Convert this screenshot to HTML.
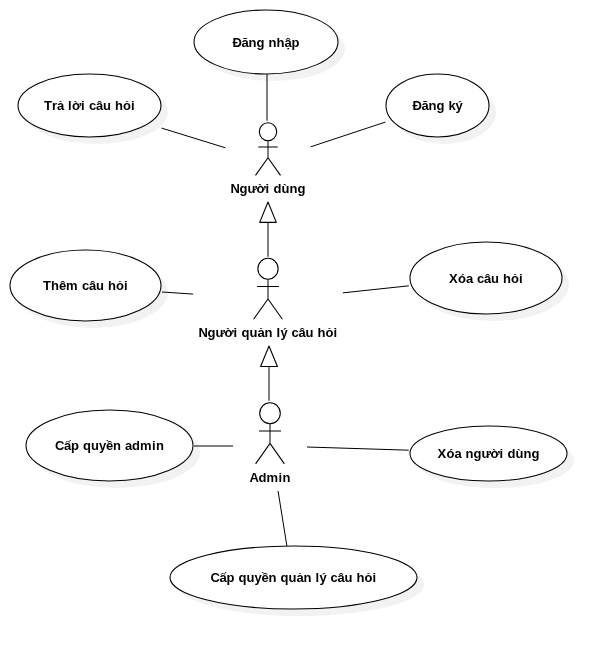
<!DOCTYPE html>
<html lang="vi">
<head>
<meta charset="utf-8">
<title>Use case diagram</title>
<style>
html,body{margin:0;padding:0;background:#fff;}
body{width:607px;height:649px;overflow:hidden;}
svg{display:block;will-change:transform;}
text{font-family:"Liberation Sans",Arial,sans-serif;font-weight:bold;font-size:13px;fill:#000;text-anchor:start;white-space:pre;}
.sh{fill:#f2f2f2;stroke:none;}
.uc{fill:#fff;stroke:#000;stroke-width:1.08;}
.ln{stroke:#000;stroke-width:1;fill:none;}
.tri{fill:#fff;stroke:#000;stroke-width:1.1;stroke-linejoin:round;}
.dg{stroke-width:1.1;}
</style>
</head>
<body>
<svg width="607" height="649" viewBox="0 0 607 649">
<rect width="607" height="649" fill="#fff"/>

<!-- shadows -->
<g class="sh">
<ellipse cx="273" cy="49" rx="72" ry="32"/>
<ellipse cx="96.5" cy="112.5" rx="71.5" ry="31.5"/>
<ellipse cx="444.5" cy="112.5" rx="51.5" ry="31.5"/>
<ellipse cx="92.5" cy="292.5" rx="75.5" ry="35.5"/>
<ellipse cx="493" cy="285" rx="76" ry="36"/>
<ellipse cx="116.5" cy="452.5" rx="83.5" ry="35.5"/>
<ellipse cx="495.5" cy="460.5" rx="78.5" ry="27.5"/>
<ellipse cx="300.5" cy="584.5" rx="123.5" ry="31.5"/>
</g>

<!-- connectors (on top of shadows, clipped to use-case bounding boxes) -->
<g class="ln">
<line x1="267" y1="74" x2="267" y2="120.75"/>
<line x1="161.5" y1="128.05" x2="225.4" y2="147.8"/>
<line x1="310.6" y1="146.85" x2="385.4" y2="122.05"/>
<line x1="162" y1="292" x2="193.2" y2="294.1"/>
<line x1="342.9" y1="292.85" x2="408.9" y2="285.8"/>
<line x1="194" y1="446" x2="233" y2="446"/>
<line x1="307" y1="447" x2="408.75" y2="450.2"/>
<line x1="278.07" y1="491" x2="286.9" y2="546"/>
<line x1="268" y1="222" x2="268" y2="256.75"/>
<line x1="269" y1="366.5" x2="269" y2="400.75"/>
</g>

<polygon class="tri" points="268,202 276.3,222.4 259.7,222.4"/>
<polygon class="tri" points="269,346 277.4,366.5 260.6,366.5"/>

<!-- use cases -->
<g class="uc">
<ellipse cx="266" cy="42" rx="72" ry="32"/>
<ellipse cx="89.5" cy="105.5" rx="71.5" ry="31.5"/>
<ellipse cx="437.5" cy="105.5" rx="51.5" ry="31.5"/>
<ellipse cx="85.5" cy="285.5" rx="75.5" ry="35.5"/>
<ellipse cx="486" cy="278" rx="76" ry="36"/>
<ellipse cx="109.5" cy="445.5" rx="83.5" ry="35.5"/>
<ellipse cx="488.5" cy="453.5" rx="78.5" ry="27.5"/>
<ellipse cx="293.5" cy="577.5" rx="123.5" ry="31.5"/>
</g>

<!-- actors -->
<g class="ln">
<ellipse cx="268" cy="131.8" rx="8.7" ry="9" fill="#fff" class="dg"/>
<path d="M268 140.8V157.8M258.3 147H277.7"/>
<path class="dg" d="M268 157.8L255.5 175.4M268 157.8L280.5 175.4"/>
<ellipse cx="268" cy="268.8" rx="10.1" ry="10.5" fill="#fff" class="dg"/>
<path d="M268 279.3V299M257 286.5H279"/>
<path class="dg" d="M268 299L253.6 319.2M268 299L282.4 319.2"/>
<ellipse cx="270" cy="413.2" rx="10.3" ry="10.5" fill="#fff" class="dg"/>
<path d="M270 423.7V443.4M259 431H281"/>
<path class="dg" d="M270 443.4L255.6 463.9M270 443.4L284.4 463.9"/>
</g>

<!-- labels: 13px bold, glyphs on whole-pixel advances -->
<g>
<text y="47" x="232.5 241.5 248.5 256.5 264.5 268.5 276.5 284.5 291.5">Đăng nhập</text>
<text y="110" x="44 52 57 64 68 72 81 85 89 96 103 111 115 123 131">Trả lời câu hỏi</text>
<text y="110" x="412.5 421.5 428.5 436.5 444.5 448.5 455.5">Đăng ký</text>
<text y="193" x="230.5 239.5 247.5 256.5 265.5 269.5 273.5 281.5 289.5 297.5">Người dùng</text>
<text y="290" x="43 51 59 66 78 82 89 96 104 108 116 124">Thêm câu hỏi</text>
<text y="283" x="449 458 466 473 477 484 491 499 503 511 519">Xóa câu hỏi</text>
<text y="337" x="198.5 207.5 215.5 224.5 233.5 237.5 241.5 249.5 257.5 264.5 272.5 276.5 280.5 287.5 291.5 298.5 305.5 313.5 317.5 325.5 333.5">Người quản lý câu hỏi</text>
<text y="450" x="55 64 71 79 83 91 99 106 113 121 125 132 140 152 156">Cấp quyền admin</text>
<text y="458" x="437.5 446.5 454.5 461.5 465.5 473.5 481.5 490.5 499.5 503.5 507.5 515.5 523.5 531.5">Xóa người dùng</text>
<text y="482" x="249.5 258.5 266.5 278.5 282.5">Admin</text>
<text y="582" x="210.5 219.5 226.5 234.5 238.5 246.5 254.5 261.5 268.5 276.5 280.5 288.5 296.5 303.5 311.5 315.5 319.5 326.5 330.5 337.5 344.5 352.5 356.5 364.5 372.5">Cấp quyền quản lý câu hỏi</text>
</g>
</svg>
</body>
</html>
